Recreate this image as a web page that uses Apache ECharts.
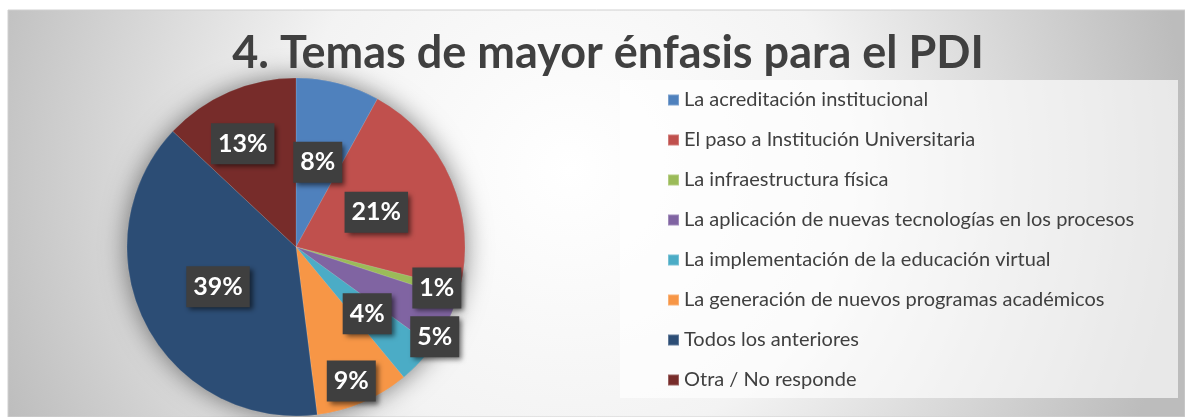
<!DOCTYPE html>
<html>
<head>
<meta charset="utf-8">
<script src="https://cdn.jsdelivr.net/npm/echarts@6/dist/echarts.min.js"></script>
<style>
html, body { margin: 0; padding: 0; background: #fff; }
#main { width: 1185px; height: 417px; }
</style>
</head>
<body>
<div id="main"></div>
<script>
// datos de la grafica
var titulo = '4. Temas de mayor énfasis para el PDI';
var categorias = [
    'La acreditación institucional',
    'El paso a Institución Universitaria',
    'La infraestructura física',
    'La aplicación de nuevas tecnologías en los procesos',
    'La implementación de la educación virtual',
    'La generación de nuevos programas académicos',
    'Todos los anteriores',
    'Otra / No responde'
];
var porcentajes = [8, 21, 1, 5, 4, 9, 39, 13];

// estilo
var colores = ['#4f81bd', '#c0504d', '#9bbb59', '#8064a2', '#4bacc6', '#f79646', '#2c4d75', '#772c2a'];
var RADIO = 169;                 // radio del pastel en px
var CENTRO = [296, 247];
// donde deja Excel cada etiqueta: fraccion del radio y giro en grados
var radioEtiqueta = [0.5, 0.5, 0.85, 0.96, 0.56, 0.84, 0.5, 0.67];
var giroEtiqueta = [0, 0, 0, 6, 0, 1, 0, -4];
var fuente = 'Lato, "Open Sans", sans-serif';

var total = 0;
for (var k = 0; k < porcentajes.length; k++) total += porcentajes[k];

var acumulado = 0;
var datos = categorias.map(function (nombre, i) {
    var medio = (acumulado + porcentajes[i] / 2) / total * 2 * Math.PI;
    acumulado += porcentajes[i];
    var ang = medio + giroEtiqueta[i] * Math.PI / 180;
    var rr = radioEtiqueta[i] * RADIO;
    var r0 = 0.5 * RADIO;   // 'inside' deja la etiqueta en r/2
    return {
        name: nombre,
        value: porcentajes[i],
        itemStyle: { color: colores[i] },
        label: {
            offset: [rr * Math.sin(ang) - r0 * Math.sin(medio), -rr * Math.cos(ang) + r0 * Math.cos(medio)]
        }
    };
});

var myChart = echarts.init(document.getElementById('main'));

var option = {
    animation: false,
    graphic: [
        {   // fondo con degradado
            type: 'rect', z: -10, silent: true,
            shape: { x: 8, y: 10, width: 1177, height: 407 },
            style: {
                fill: new echarts.graphic.RadialGradient(570, 170, 620, [
                    { offset: 0, color: '#ffffff' },
                    { offset: 0.45, color: '#f3f3f3' },
                    { offset: 1, color: '#bcbcbc' }
                ], true),
                stroke: '#d0d0d0', lineWidth: 1
            }
        },
        {   // caja de la leyenda
            type: 'rect', z: -5, silent: true,
            shape: { x: 620, y: 80, width: 558, height: 318 },
            style: { fill: 'rgba(255,255,255,0.65)' }
        },
        {   // titulo
            type: 'text', z: 5, silent: true,
            x: 608, y: 53,
            style: {
                text: titulo,
                align: 'center',
                verticalAlign: 'middle',
                fontFamily: fuente, fontWeight: 'bold', fontSize: 45, fill: '#404040'
            }
        }
    ],
    legend: {
        orient: 'vertical',
        left: 662,
        top: 85,
        data: categorias,
        icon: 'rect',
        itemWidth: 11,
        itemHeight: 11,
        itemGap: 20,
        selectedMode: false,
        textStyle: { fontFamily: fuente, fontSize: 20, color: '#404040', lineHeight: 20 }
    },
    series: [
        {   // sombra difusa detras del pastel
            type: 'pie',
            silent: true,
            center: CENTRO,
            radius: RADIO,
            z: 1,
            label: { show: false },
            labelLine: { show: false },
            data: [{ value: 1, name: '_sombra' }],
            itemStyle: { color: '#888', shadowBlur: 26, shadowColor: 'rgba(0,0,0,0.5)' }
        },
        {
            type: 'pie',
            center: CENTRO,
            radius: RADIO,
            startAngle: 90,
            clockwise: true,
            minShowLabelAngle: 0,
            avoidLabelOverlap: false,
            labelLayout: { hideOverlap: false },
            z: 2,
            data: datos,
            itemStyle: { borderColor: 'rgba(255,255,255,0.25)', borderWidth: 0.5 },
            label: {
                show: true,
                position: 'inside',
                formatter: '{c}%',
                fontFamily: fuente,
                fontWeight: 'bold',
                fontSize: 25,
                lineHeight: 25,
                color: '#ffffff',
                backgroundColor: '#3f3f3f',
                padding: [9, 7, 7, 7],
                shadowBlur: 5,
                shadowOffsetX: 3,
                shadowOffsetY: 3,
                shadowColor: 'rgba(0,0,0,0.55)'
            },
            labelLine: { show: false },
            emphasis: { disabled: true }
        }
    ]
};

myChart.setOption(option);
</script>
</body>
</html>
